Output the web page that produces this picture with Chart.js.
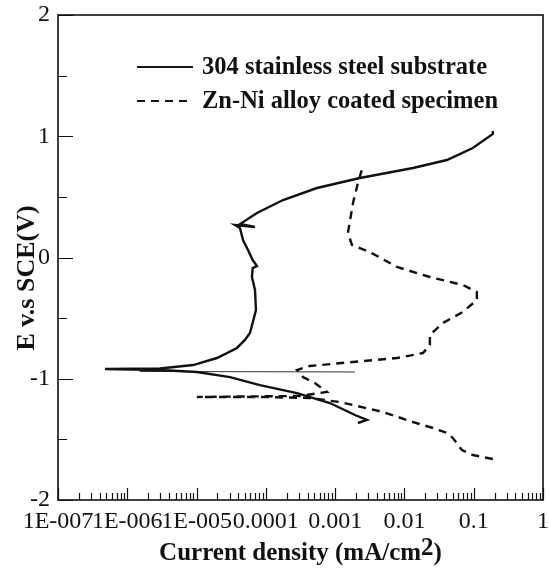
<!DOCTYPE html>
<html>
<head>
<meta charset="utf-8">
<script src="https://cdn.jsdelivr.net/npm/chart.js@4.4.1/dist/chart.umd.min.js"></script>
<style>
  html, body { margin: 0; padding: 0; background: #fff; }
  #wrap { width: 549px; height: 576px; }
</style>
</head>
<body>
<div id="wrap"><canvas id="c" width="549" height="576"></canvas></div>
<script>
// ---- data ----
const xTickValues = [1e-7, 1e-6, 1e-5, 1e-4, 1e-3, 1e-2, 1e-1, 1];
const xTickLabels = ['1E-007', '1E-006', '1E-005', '0.0001', '0.001', '0.01', '0.1', '1'];
const yTickValues = [-2, -1, 0, 1, 2];

// 304 stainless steel substrate (solid)
const ssCurrent = [2.13e-3, 2.88e-3, 1.93e-3, 8.4e-4, 2.81e-4, 8.2e-5, 3.03e-5, 1.01e-5, 2.96e-6, 4.76e-7,
  2.96e-6, 8.9e-6, 1.97e-5, 3.83e-5, 4.99e-5, 5.9e-5, 7.2e-5, 6.97e-5, 6.3e-5, 6.45e-5, 7.45e-5, 6.45e-5,
  5.52e-5, 4.68e-5, 4.23e-5, 3.58e-5, 6.97e-5, 4.23e-5, 7.45e-5, 1.77e-4, 5.46e-4, 2.28e-3, 1.33e-2,
  4.1e-2, 9.7e-2, 0.189, 0.189];
const ssPotential = [-1.365, -1.340, -1.299, -1.200, -1.118, -1.052, -0.986, -0.944, -0.928, -0.920,
  -0.915, -0.887, -0.829, -0.746, -0.680, -0.623, -0.433, -0.268, -0.161, -0.087, -0.070, -0.021,
  0.062, 0.144, 0.243, 0.268, 0.252, 0.276, 0.367, 0.474, 0.573, 0.656, 0.738,
  0.804, 0.903, 1.019, 1.043];

// Zn-Ni alloy coated specimen (dashed)
const znCurrent = [0.189, 0.097, 0.0676, 0.0501, 0.041, 0.0258, 0.0133, 4.9e-3, 1.17e-3, 4.32e-4, 8.2e-5, 1.01e-5,
  3.1e-4, 7.6e-4, 5.1e-4, 3.43e-4, 2.81e-4, 4.3e-4, 1.48e-3, 7.8e-3, 0.0185, 0.0233, 0.0233, 0.036,
  0.0698, 0.111, 0.111, 0.0698, 0.0233, 7.8e-3, 3.18e-3, 1.75e-3, 1.53e-3, 1.81e-3, 2.13e-3, 2.52e-3];
const znPotential = [-1.662, -1.629, -1.588, -1.489, -1.447, -1.406, -1.357, -1.274, -1.192, -1.159, -1.150, -1.150,
  -1.142, -1.109, -1.035, -0.986, -0.928, -0.895, -0.866, -0.829, -0.788, -0.722, -0.639, -0.540,
  -0.449, -0.351, -0.285, -0.227, -0.161, -0.078, 0.045, 0.103, 0.202, 0.449, 0.614, 0.755];

// thin horizontal trace near the corrosion potential
const thinCurrent = [1.5e-6, 1.93e-3];
const thinPotential = [-0.940, -0.944];

const toPts = (xs, ys) => xs.map((x, i) => ({ x: x, y: ys[i] }));

const SERIF = "'Liberation Serif', 'Times New Roman', 'DejaVu Serif', serif";
const INK = '#111';

const framePlugin = {
  id: 'frame',
  afterDraw(chart) {
    const ctx = chart.ctx;
    const a = chart.chartArea;
    const xs = chart.scales.x, ys = chart.scales.y;
    ctx.save();
    ctx.strokeStyle = INK;
    ctx.lineWidth = 1.6;
    ctx.strokeRect(a.left, a.top, a.right - a.left, a.bottom - a.top);
    // x ticks (inward)
    ctx.lineWidth = 1.2;
    ctx.beginPath();
    for (let d = -7; d <= 0; d++) {
      for (let m = 1; m <= 9; m++) {
        const v = m * Math.pow(10, d);
        if (v > 1.0000001) break;
        const px = Math.round(xs.getPixelForValue(v)) + 0.5;
        const len = (m === 1) ? 12 : 7;
        ctx.moveTo(px, a.bottom);
        ctx.lineTo(px, a.bottom - len);
      }
    }
    // y ticks (inward)
    for (let v = -2; v <= 2.0001; v += 0.5) {
      const py = Math.round(ys.getPixelForValue(v)) + 0.5;
      const len = (Math.abs(v - Math.round(v)) < 1e-6) ? 15 : 9;
      ctx.moveTo(a.left, py);
      ctx.lineTo(a.left + len, py);
    }
    ctx.stroke();

    // legend
    const ds = chart.data.datasets;
    ctx.fillStyle = INK;
    ctx.font = "bold 24.5px " + SERIF;
    ctx.textBaseline = 'middle';
    ctx.textAlign = 'left';
    const rows = [{ i: 0, y: 67 }, { i: 1, y: 101 }];
    rows.forEach(r => {
      ctx.beginPath();
      ctx.lineWidth = 2.2;
      ctx.setLineDash(ds[r.i].borderDash || []);
      ctx.moveTo(137, r.y);
      ctx.lineTo(193, r.y);
      ctx.stroke();
      ctx.setLineDash([]);
      ctx.fillText(ds[r.i].label, 202, r.y + 1);
    });

    // axis titles
    ctx.font = "bold 25px " + SERIF;
    ctx.textBaseline = 'middle';
    const t1 = 'Current density (mA/cm';
    const t2 = '2';
    const t3 = ')';
    const w1 = ctx.measureText(t1).width, w2 = ctx.measureText(t2).width, w3 = ctx.measureText(t3).width;
    const cx = (a.left + a.right) / 2;
    let sx = cx - (w1 + w2 + w3) / 2;
    ctx.textAlign = 'left';
    ctx.fillText(t1, sx, 554);
    ctx.fillText(t2, sx + w1, 549);
    ctx.fillText(t3, sx + w1 + w2, 554);

    ctx.save();
    ctx.font = "bold 26px " + SERIF;
    ctx.translate(27, 278);
    ctx.rotate(-Math.PI / 2);
    ctx.textAlign = 'center';
    ctx.fillText('E v.s SCE(V)', 0, 0);
    ctx.restore();
    ctx.restore();
  }
};

new Chart(document.getElementById('c'), {
  type: 'line',
  data: {
    datasets: [
      { label: '304 stainless steel substrate', data: toPts(ssCurrent, ssPotential),
        borderColor: INK, borderWidth: 2.4, pointRadius: 0, tension: 0, fill: false },
      { label: 'Zn-Ni alloy coated specimen', data: toPts(znCurrent, znPotential),
        borderColor: INK, borderWidth: 2.4, borderDash: [8, 6], pointRadius: 0, tension: 0, fill: false },
      { label: '', data: toPts(thinCurrent, thinPotential),
        borderColor: '#333', borderWidth: 1, pointRadius: 0, tension: 0, fill: false }
    ]
  },
  options: {
    responsive: false,
    animation: false,
    devicePixelRatio: 1,
    layout: { padding: { top: 15, right: 6, left: 0, bottom: 0 } },
    plugins: { legend: { display: false }, tooltip: { enabled: false } },
    scales: {
      x: {
        type: 'logarithmic', min: 1e-7, max: 1,
        afterBuildTicks(scale) { scale.ticks = xTickValues.map(v => ({ value: v })); },
        afterFit(scale) { scale.height = 76; scale.paddingLeft = 0; scale.paddingRight = 0; },
        grid: { display: false, drawTicks: false },
        border: { display: false },
        ticks: {
          autoSkip: false, maxRotation: 0, minRotation: 0, padding: 7,
          color: INK, font: { family: SERIF, size: 24 },
          callback(value) {
            const i = xTickValues.findIndex(t => Math.abs(Math.log10(t) - Math.log10(value)) < 1e-6);
            return i >= 0 ? xTickLabels[i] : '';
          }
        }
      },
      y: {
        type: 'linear', min: -2, max: 2,
        afterBuildTicks(scale) { scale.ticks = yTickValues.map(v => ({ value: v })); },
        afterFit(scale) { scale.width = 58; scale.paddingTop = 0; scale.paddingBottom = 0; },
        grid: { display: false, drawTicks: false },
        border: { display: false },
        ticks: { padding: 8, color: INK, font: { family: SERIF, size: 24 } }
      }
    }
  },
  plugins: [framePlugin]
});
</script>
</body>
</html>
